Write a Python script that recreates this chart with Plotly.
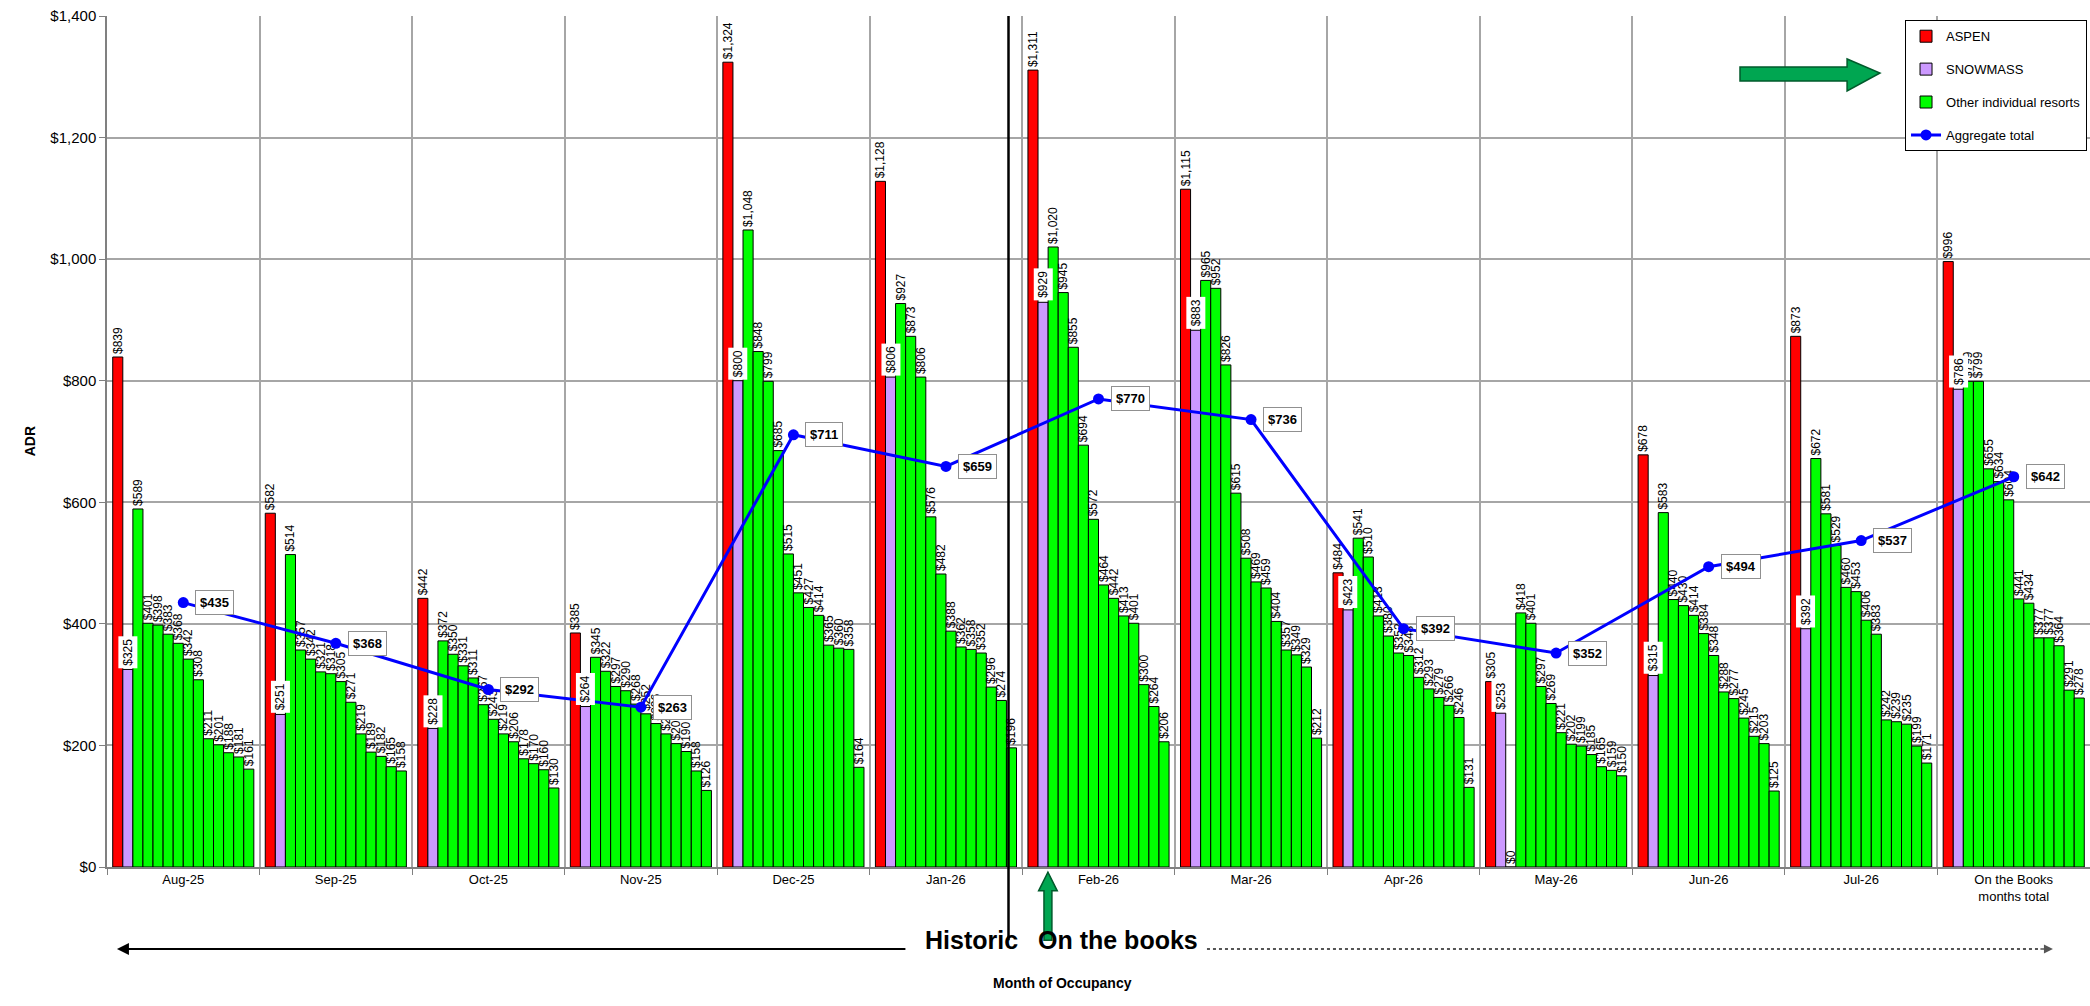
import plotly.graph_objects as go

# ---------------- data ----------------
months = ["Aug-25", "Sep-25", "Oct-25", "Nov-25", "Dec-25", "Jan-26", "Feb-26",
          "Mar-26", "Apr-26", "May-26", "Jun-26", "Jul-26", "On the Books<br>months total"]
aspen = [839, 582, 442, 385, 1324, 1128, 1311, 1115, 484, 305, 678, 873, 996]
snowmass = [325, 251, 228, 264, 800, 806, 929, 883, 423, 253, 315, 392, 786]
aggregate = [435, 368, 292, 263, 711, 659, 770, 736, 392, 352, 494, 537, 642]

other_aug25 = [589, 401, 398, 383, 368, 342, 308, 211, 201, 188, 181, 161]
other_sep25 = [514, 357, 342, 321, 318, 305, 271, 219, 189, 182, 165, 158]
other_oct25 = [372, 350, 331, 311, 267, 243, 219, 206, 178, 170, 160, 130]
other_nov25 = [345, 322, 297, 290, 268, 252, 236, 219, 203, 190, 158, 126]
other_dec25 = [1048, 848, 799, 685, 515, 451, 427, 414, 365, 360, 358, 164]
other_jan26 = [927, 873, 806, 576, 482, 388, 362, 358, 352, 296, 274, 196]
other_feb26 = [1020, 945, 855, 694, 572, 464, 442, 413, 401, 300, 264, 206]
other_mar26 = [965, 952, 826, 615, 508, 469, 459, 404, 357, 349, 329, 212]
other_apr26 = [541, 510, 413, 380, 352, 348, 312, 293, 279, 266, 246, 131]
other_may26 = [0, 418, 401, 297, 269, 221, 202, 199, 185, 165, 159, 150]
other_jun26 = [583, 440, 430, 414, 384, 348, 288, 277, 245, 215, 203, 125]
other_jul26 = [672, 581, 529, 460, 453, 406, 383, 242, 239, 235, 199, 171]
other_otb = [799, 799, 655, 634, 604, 441, 434, 377, 377, 364, 291, 278]

other_by_month = [other_aug25, other_sep25, other_oct25, other_nov25, other_dec25,
                  other_jan26, other_feb26, other_mar26, other_apr26, other_may26,
                  other_jun26, other_jul26, other_otb]
n_other = len(other_aug25)

# ---------------- style ----------------
FONT = "Arial, Liberation Sans, sans-serif"
RED = "#FF0000"
PURPLE = "#CC99FF"
GREEN = "#00FF00"
BLUE = "#0000FF"
GRID = "#A6A6A6"
ARROW_FILL = "#00A651"
ARROW_LINE = "#005A2B"

W, H = 2090, 1006
ML, MR, MT, MB = 107, 0, 16, 139
BARGAP = 0.075

fig = go.Figure()

label_font = dict(family=FONT, size=12, color="black")
common = dict(marker_line_color="black", marker_line_width=1, cliponaxis=False,
              hoverinfo="skip")

fig.add_trace(go.Bar(x=months, y=aspen, name="ASPEN", marker_color=RED,
                     legendgroup="a", texttemplate="$%{y:,.0f}", textposition="outside",
                     textangle=-90, constraintext="none", textfont=label_font, **common))
fig.add_trace(go.Bar(x=months, y=snowmass, name="SNOWMASS", marker_color=PURPLE,
                     legendgroup="b", **common))
for i in range(n_other):
    vals = [m[i] for m in other_by_month]
    fig.add_trace(go.Bar(x=months, y=vals, name="Other individual resorts",
                         marker_color=GREEN, legendgroup="c", showlegend=(i == 0),
                         texttemplate="$%{y:,.0f}", textposition="outside",
                         textangle=-90, constraintext="none", textfont=label_font,
                         **common))
fig.add_trace(go.Scatter(x=months, y=aggregate, mode="lines+markers", name="Aggregate total",
                         legendgroup="d", line=dict(color=BLUE, width=3),
                         marker=dict(size=11, color=BLUE), hoverinfo="skip"))

# ---------------- annotations ----------------
ann = []
plot_w = W - ML - MR
cat_px = plot_w / len(months)
n_bars = 2 + n_other
bar_px = cat_px * (1 - BARGAP) / n_bars
purple_shift = -cat_px * (1 - BARGAP) / 2 + 1.5 * bar_px

for m, v in zip(months, snowmass):
    ann.append(dict(x=m, y=v, xref="x", yref="y", text=f"${v:,}", showarrow=False,
                    textangle=-90, yanchor="bottom", xanchor="center", xshift=purple_shift,
                    yshift=1, bgcolor="white", borderpad=2,
                    font=dict(family=FONT, size=12, color="black")))

for m, v in zip(months, aggregate):
    ann.append(dict(x=m, y=v, xref="x", yref="y", text=f"<b>${v:,}</b>", showarrow=False,
                    xanchor="left", yanchor="middle", xshift=12, bgcolor="white",
                    bordercolor="#909090", borderwidth=1, borderpad=4,
                    font=dict(family=FONT, size=13, color="black")))

ann.append(dict(x=-0.044, y=0.5, xref="paper", yref="paper", text="<b>ADR</b>",
                showarrow=False, textangle=-90, font=dict(family=FONT, size=14, color="black")))

# bottom texts
ann.append(dict(x=0.436, y=-0.104, xref="paper", yref="paper", text="<b>Historic</b>",
                showarrow=False, font=dict(family=FONT, size=25, color="black")))
ann.append(dict(x=0.510, y=-0.104, xref="paper", yref="paper", text="<b>On the books</b>",
                showarrow=False, font=dict(family=FONT, size=25, color="black")))
ann.append(dict(x=0.482, y=-0.148, xref="paper", yref="paper", text="<b>Month of Occupancy</b>",
                showarrow=False, font=dict(family=FONT, size=14, color="black")))

# historic arrow (left)
ann.append(dict(x=0.005, y=-0.0964, xref="paper", yref="paper", ax=790, ay=0,
                axref="pixel", ayref="pixel", text="", showarrow=True, arrowhead=2,
                arrowsize=1.2, arrowwidth=2, arrowcolor="black"))
# on-the-books arrow head (right)
ann.append(dict(x=0.9813, y=-0.0964, xref="paper", yref="paper", ax=-14, ay=0,
                axref="pixel", ayref="pixel", text="", showarrow=True, arrowhead=2,
                arrowsize=1.2, arrowwidth=1.5, arrowcolor="#555555"))

# ---------------- shapes ----------------
shapes = [
    # divider between historic and on-the-books
    dict(type="line", xref="x", yref="paper", x0=5.41, x1=5.41, y0=-0.086, y1=1,
         line=dict(color="black", width=2.5)),
    # dashed on-the-books line
    dict(type="line", xref="paper", yref="paper", x0=0.5547, x1=0.975, y0=-0.0964, y1=-0.0964,
         line=dict(color="#555555", width=2, dash="dot")),
    # green arrow top-right pointing to SNOWMASS
    dict(type="path", xref="paper", yref="paper",
         path="M 0.8235 0.9236 L 0.8775 0.9236 L 0.8775 0.9119 L 0.8941 0.933 "
              "L 0.8775 0.9495 L 0.8775 0.940 L 0.8235 0.940 Z",
         fillcolor=ARROW_FILL, line=dict(color=ARROW_LINE, width=1.5)),
    # green arrow under Feb-26 pointing up
    dict(type="path", xref="paper", yref="paper",
         path="M 0.4725 -0.086 L 0.4765 -0.086 L 0.4765 -0.028 L 0.4792 -0.028 "
              "L 0.4745 -0.006 L 0.4698 -0.028 L 0.4725 -0.028 Z",
         fillcolor=ARROW_FILL, line=dict(color=ARROW_LINE, width=1.5)),
]

fig.update_layout(
    width=W, height=H,
    margin=dict(l=ML, r=MR, t=MT, b=MB),
    plot_bgcolor="white", paper_bgcolor="white",
    barmode="group", bargap=BARGAP, bargroupgap=0,
    font=dict(family=FONT, color="black"),
    showlegend=True,
    legend=dict(x=0.9985, y=0.995, xanchor="right", yanchor="top",
                bgcolor="white", bordercolor="black", borderwidth=1,
                font=dict(family=FONT, size=13, color="black"),
                tracegroupgap=13, traceorder="grouped"),
    annotations=ann,
    shapes=shapes,
    xaxis=dict(type="category", range=[-0.5, len(months) - 0.5], tickson="boundaries",
               showgrid=True, gridcolor=GRID,
               gridwidth=1.5, ticks="outside", ticklen=6, tickcolor="#808080",
               showline=True, linecolor="#808080", linewidth=1.5,
               tickfont=dict(family=FONT, size=13, color="black")),
    yaxis=dict(range=[0, 1400], dtick=200, tickprefix="$", tickformat=",d",
               showgrid=True, gridcolor=GRID, gridwidth=1.5, zeroline=False,
               ticks="outside", ticklen=6, tickcolor="#808080",
               showline=True, linecolor="#808080", linewidth=1.5,
               tickfont=dict(family=FONT, size=15, color="black")),
)

fig.write_html("out.html", config={"displayModeBar": False},
               post_script="document.body.style.margin='0';")
